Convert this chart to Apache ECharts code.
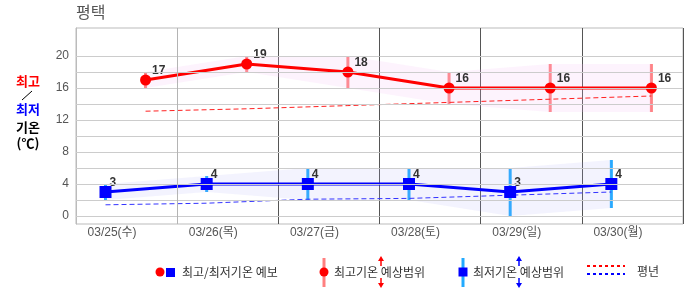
<!DOCTYPE html>
<html><head><meta charset="utf-8">
<script src="https://cdn.jsdelivr.net/npm/echarts@6/dist/echarts.min.js"></script>
<style>html,body{margin:0;padding:0;background:#fff}#c{width:686px;height:295px}</style>
</head><body><div id="c"></div><script>
const categories = ['03/25(수)','03/26(목)','03/27(금)','03/28(토)','03/29(일)','03/30(월)'];
const maxTemp = [17,19,18,16,16,16];
const maxLow  = [16,18,16,14,13,13];
const maxHigh = [18,20,20,18,19,19];
const minTemp = [3,4,4,4,3,4];
const minLow  = [2,3,2,2,0,1];
const minHigh = [4,5,6,6,6,7];
const maxNormal = [13.1,13.4,13.8,14.2,14.6,15.0];
const minNormal = [1.4,1.6,2.1,2.2,2.6,3.0];
const yTicks = [0,4,8,12,16,20];
const yGrid = [0,2,4,6,8,10,12,14,16,18,20];

const DAY = 86400000, HOUR = 3600000;
const start = Date.UTC(2026,2,25);
const maxHour = 16.5, minHour = 7;
const tx = (i,h) => start + i*DAY + h*HOUR;
const FONT = "'Liberation Sans','Noto Sans CJK KR',sans-serif";
const KFONT = "'Noto Sans CJK KR',sans-serif";

const pts = (vals,h) => vals.map((v,i)=>[tx(i,h), v]);
const diff = (hi,lo,h) => hi.map((v,i)=>[tx(i,h), v-lo[i]]);
const ranges = (lo,hi,h) => lo.map((v,i)=>[tx(i,h), v, hi[i]]);

function rangeBar(color){
  return function(params, api){
    const a = api.coord([api.value(0), api.value(1)]);
    const b = api.coord([api.value(0), api.value(2)]);
    return {type:'line', shape:{x1:a[0],y1:a[1],x2:b[0],y2:b[1]}, style:{stroke:color, lineWidth:3}};
  };
}
const hidden = {lineStyle:{opacity:0}, symbol:'none', silent:true};

const chart = echarts.init(document.getElementById('c'), null, {renderer:'canvas'});
chart.setOption({
  animation:false,
  useUTC:true,
  grid:{left:76, right:3, top:28, bottom:71, show:true, borderColor:'#bbb', borderWidth:1},
  xAxis:[
    {type:'time', min:start, max:start+6*DAY, minInterval:DAY, maxInterval:DAY,
     axisLabel:{show:false}, axisTick:{show:false}, axisLine:{show:false},
     splitLine:{show:true, lineStyle:{color:'#555', width:1}}},
    {type:'category', data:categories, position:'bottom', boundaryGap:true,
     axisLine:{show:false}, axisTick:{show:false}, splitLine:{show:false},
     axisLabel:{color:'#555', fontSize:12, fontFamily:FONT, padding:[0,29,0,0], margin:3}}
  ],
  yAxis:{type:'value', min:-1, max:23.5,
    axisLine:{show:true, lineStyle:{color:'#bbb'}}, axisTick:{show:false}, splitLine:{show:false},
    axisLabel:{customValues:yTicks, color:'#555', fontSize:12, fontFamily:FONT, margin:7}},
  series:[
    {type:'line', xAxisIndex:0, data:[[start,0]], ...hidden, z:0,
     markLine:{silent:true, symbol:'none', label:{show:false}, animation:false,
       lineStyle:{color:'#ccc', type:'solid', width:1},
       data:yGrid.map(v=>({yAxis:v})).concat([{xAxis:start+DAY, lineStyle:{color:'#b4b4b4'}}])}},
    {type:'line', xAxisIndex:0, stack:'r', data:pts(maxLow,maxHour), ...hidden},
    {type:'line', xAxisIndex:0, stack:'r', data:diff(maxHigh,maxLow,maxHour), ...hidden,
     areaStyle:{color:'rgba(245,185,245,0.25)'}},
    {type:'line', xAxisIndex:0, stack:'b', data:pts(minLow,minHour), ...hidden},
    {type:'line', xAxisIndex:0, stack:'b', data:diff(minHigh,minLow,minHour), ...hidden,
     areaStyle:{color:'rgba(170,170,245,0.2)'}},
    {type:'line', xAxisIndex:0, data:pts(maxNormal,maxHour), symbol:'none', silent:true,
     lineStyle:{color:'#ff2020', width:1, type:[5,3]}},
    {type:'line', xAxisIndex:0, data:pts(minNormal,minHour), symbol:'none', silent:true,
     lineStyle:{color:'#3333ff', width:1, type:[5,3]}},
    {type:'custom', xAxisIndex:0, data:ranges(maxLow,maxHigh,maxHour), encode:{x:0,y:[1,2]},
     renderItem:rangeBar('#ff8080'), silent:true},
    {type:'custom', xAxisIndex:0, data:ranges(minLow,minHigh,minHour), encode:{x:0,y:[1,2]},
     renderItem:rangeBar('#22aaff'), silent:true},
    {type:'line', xAxisIndex:0, data:pts(maxTemp,maxHour), symbol:'circle', symbolSize:11,
     itemStyle:{color:'#ff0000'}, lineStyle:{color:'#ff0000', width:3},
     label:{show:true, position:'right', distance:1, offset:[0,-9], color:'#333', fontWeight:'bold', fontSize:12, fontFamily:FONT,
       formatter:p=>p.value[1]}},
    {type:'line', xAxisIndex:0, data:pts(minTemp,minHour), symbol:'rect', symbolSize:12,
     itemStyle:{color:'#0000ff'}, lineStyle:{color:'#0000ff', width:3},
     label:{show:true, position:'right', distance:-2, offset:[0,-9], color:'#333', fontWeight:'bold', fontSize:12, fontFamily:FONT,
       formatter:p=>p.value[1]}}
  ],
  graphic:[
    {type:'text', left:76, top:4, style:{text:'평택', fill:'#555', font:'16px '+KFONT}},
    {type:'text', x:28, y:81, style:{text:'최고', fill:'#ff0000', font:'bold 13px '+KFONT, textAlign:'center', textVerticalAlign:'middle'}},
    {type:'line', shape:{x1:32,y1:91,x2:22,y2:100}, style:{stroke:'#000', lineWidth:1}},
    {type:'text', x:28, y:109, style:{text:'최저', fill:'#0000ff', font:'bold 13px '+KFONT, textAlign:'center', textVerticalAlign:'middle'}},
    {type:'text', x:28, y:127, style:{text:'기온', fill:'#000', font:'bold 13px '+KFONT, textAlign:'center', textVerticalAlign:'middle'}},
    {type:'text', x:28, y:143, style:{text:'(℃)', fill:'#000', font:'bold 13px '+KFONT, textAlign:'center', textVerticalAlign:'middle'}},
    // legend 1
    {type:'circle', shape:{cx:160, cy:272, r:4.5}, style:{fill:'#ff0000'}},
    {type:'rect', shape:{x:166, y:268, width:9, height:9}, style:{fill:'#0000ff'}},
    {type:'text', x:182, y:272, style:{text:'최고/최저기온 예보', fill:'#333', font:'12px '+KFONT, textVerticalAlign:'middle'}},
    // legend 2
    {type:'rect', shape:{x:322.5, y:258, width:3, height:29}, style:{fill:'#ff8080'}},
    {type:'circle', shape:{cx:324, cy:272, r:4.5}, style:{fill:'#ff0000'}},
    {type:'text', x:334, y:272, style:{text:'최고기온 예상범위', fill:'#333', font:'12px '+KFONT, textVerticalAlign:'middle'}},
    {type:'line', shape:{x1:381,y1:266,x2:381,y2:259}, style:{stroke:'#ff0000', lineWidth:1.5}},
    {type:'polygon', shape:{points:[[381,256],[378,261],[384,261]]}, style:{fill:'#ff0000'}},
    {type:'line', shape:{x1:381,y1:278,x2:381,y2:285}, style:{stroke:'#ff0000', lineWidth:1.5}},
    {type:'polygon', shape:{points:[[381,288],[378,283],[384,283]]}, style:{fill:'#ff0000'}},
    // legend 3
    {type:'rect', shape:{x:461.5, y:258, width:3, height:29}, style:{fill:'#22aaff'}},
    {type:'rect', shape:{x:458.5, y:267.5, width:9, height:9}, style:{fill:'#0000ff'}},
    {type:'text', x:473, y:272, style:{text:'최저기온 예상범위', fill:'#333', font:'12px '+KFONT, textVerticalAlign:'middle'}},
    {type:'line', shape:{x1:519,y1:266,x2:519,y2:259}, style:{stroke:'#0000ff', lineWidth:1.5}},
    {type:'polygon', shape:{points:[[519,256],[516,261],[522,261]]}, style:{fill:'#0000ff'}},
    {type:'line', shape:{x1:519,y1:278,x2:519,y2:285}, style:{stroke:'#0000ff', lineWidth:1.5}},
    {type:'polygon', shape:{points:[[519,288],[516,283],[522,283]]}, style:{fill:'#0000ff'}},
    // legend 4
    {type:'line', shape:{x1:587,y1:266,x2:625,y2:266}, style:{stroke:'#ff0000', lineWidth:2, lineDash:[3,3]}},
    {type:'line', shape:{x1:587,y1:274,x2:625,y2:274}, style:{stroke:'#0000ff', lineWidth:2, lineDash:[3,3]}},
    {type:'text', x:637, y:271, style:{text:'평년', fill:'#333', font:'12px '+KFONT, textVerticalAlign:'middle'}}
  ]
});
</script></body></html>
